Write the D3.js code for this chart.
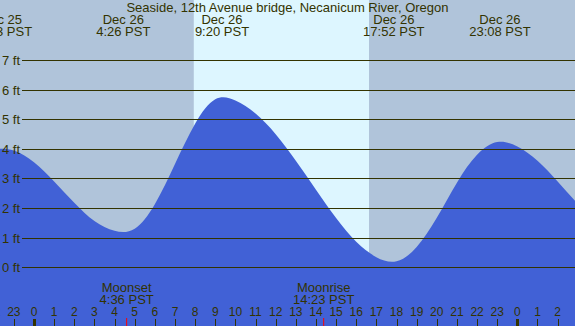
<!DOCTYPE html>
<html>
<head>
<meta charset="utf-8">
<script src="https://cdn.jsdelivr.net/npm/d3@7"></script>
<style>
  body { margin: 0; padding: 0; background: #fff; }
  svg { display: block; font-family: "Liberation Sans", Arial, sans-serif; }
</style>
</head>
<body>
<div id="svg-container"></div>
<script>
// hourly tide heights (hours from Dec 26 00:00 PST, feet)
var tideHours = [-3, -2, -1, 0, 1, 2, 3, 4, 5, 6, 7, 8, 9, 10, 11, 12, 13, 14, 15, 16, 17, 18, 19, 20, 21, 22, 23, 24, 25, 26, 27, 28];
var tideFeet  = [3.85, 3.99, 3.95, 3.55, 2.9, 2.18, 1.56, 1.23, 1.3, 2.13, 3.49, 4.85, 5.68, 5.64, 5.2, 4.5, 3.6, 2.62, 1.66, 0.86, 0.34, 0.2, 0.68, 1.67, 2.86, 3.8, 4.23, 4.08, 3.6, 2.9, 2.15, 1.5];

// high / low labels along the top
var tideDays  = ["Dec 25", "Dec 26", "Dec 26", "Dec 26", "Dec 26"];
var tideTimes = ["22:23 PST", "4:26 PST", "9:20 PST", "17:52 PST", "23:08 PST"];

var sunTimes = ["7:56", "16:38"];   // sunrise, sunset
var moonNames = ["Moonset", "Moonrise"];
var moonTimes = ["4:36 PST", "14:23 PST"];

var feetTicks = [0, 1, 2, 3, 4, 5, 6, 7];
var title = "Seaside, 12th Avenue bridge, Necanicum River, Oregon";

var width = 575,
    height = 326;

var textColor = "#333300";

function toHour(day, time) {
  var p = time.split(" ")[0].split(":");
  var h = +p[0] + (+p[1]) / 60;
  if (day == "Dec 25") h -= 24;
  return h;
}

var x = d3.scaleLinear().domain([-1.688, 26.862]).range([0, width]);
var y = d3.scaleLinear().domain([0, 7]).range([267.2, 60.2]);

var svg = d3.select("#svg-container")
            .append("svg")
            .attr("width", width)
            .attr("height", height);

// night background
svg.append("rect")
   .attr("width", width)
   .attr("height", height)
   .attr("fill", "#b0c4da");

// daylight
svg.append("rect")
   .attr("x", x(toHour("Dec 26", sunTimes[0])))
   .attr("y", 0)
   .attr("width", x(toHour("Dec 26", sunTimes[1])) - x(toHour("Dec 26", sunTimes[0])))
   .attr("height", height)
   .attr("fill", "#ddf6ff");

var tideData = tideHours.map(function(h, i){ return {h: h, ft: tideFeet[i]}; });

// evenly spaced points, so a natural spline gives the smooth tide curve
var area = d3.area()
             .x(function(d){ return x(d.h); })
             .y0(height)
             .y1(function(d){ return y(d.ft); })
             .curve(d3.curveNatural);

svg.append("path")
   .datum(tideData)
   .attr("d", area)
   .attr("fill", "#4161d6");

// grid lines + feet labels
svg.selectAll(".grid")
   .data(feetTicks)
   .enter()
   .append("line")
   .attr("class", "grid")
   .attr("x1", 22)
   .attr("x2", width)
   .attr("y1", function(d){ return Math.round(y(d)) + 0.5; })
   .attr("y2", function(d){ return Math.round(y(d)) + 0.5; })
   .attr("stroke", textColor)
   .attr("stroke-width", 1.2);

svg.selectAll(".ftlabel")
   .data(feetTicks)
   .enter()
   .append("text")
   .attr("class", "ftlabel")
   .attr("x", 20)
   .attr("y", function(d){ return Math.round(y(d)) + 5; })
   .attr("text-anchor", "end")
   .attr("font-size", 13)
   .attr("fill", textColor)
   .text(function(d){ return d + " ft"; });

// title
svg.append("text")
   .attr("x", width / 2)
   .attr("y", 12)
   .attr("text-anchor", "middle")
   .attr("font-size", 13)
   .attr("fill", textColor)
   .text(title);

// tide extremes
var ext = svg.selectAll(".ext")
             .data(tideTimes)
             .enter()
             .append("g")
             .attr("class", "ext")
             .attr("transform", function(d, i){ return "translate(" + x(toHour(tideDays[i], d)) + ",0)"; });

ext.append("text")
   .attr("y", 24)
   .attr("text-anchor", "middle")
   .attr("font-size", 13)
   .attr("fill", textColor)
   .text(function(d, i){ return tideDays[i]; });

ext.append("text")
   .attr("y", 36)
   .attr("text-anchor", "middle")
   .attr("font-size", 13)
   .attr("fill", textColor)
   .text(function(d){ return d; });

// moon labels
var moon = svg.selectAll(".moon")
              .data(moonTimes)
              .enter()
              .append("g")
              .attr("class", "moon")
              .attr("transform", function(d){ return "translate(" + x(toHour("Dec 26", d)) + ",0)"; });

moon.append("text")
    .attr("y", 292)
    .attr("text-anchor", "middle")
    .attr("font-size", 13)
    .attr("fill", textColor)
    .text(function(d, i){ return moonNames[i]; });

moon.append("text")
    .attr("y", 304)
    .attr("text-anchor", "middle")
    .attr("font-size", 13)
    .attr("fill", textColor)
    .text(function(d){ return d; });

moon.append("line")
    .attr("x1", 0).attr("x2", 0)
    .attr("y1", 318).attr("y2", height)
    .attr("stroke", "#ff0000")
    .attr("stroke-width", 1);

// hour ticks along the bottom
var hours = d3.range(Math.ceil(x.domain()[0]) - 1, Math.floor(x.domain()[1]) + 1);

svg.selectAll(".hlabel")
   .data(hours)
   .enter()
   .append("text")
   .attr("class", "hlabel")
   .attr("x", function(d){ return x(d); })
   .attr("y", 316)
   .attr("text-anchor", "middle")
   .attr("font-size", 12)
   .attr("fill", textColor)
   .text(function(d){ return ((d % 24) + 24) % 24; });

svg.selectAll(".htick")
   .data(hours)
   .enter()
   .append("line")
   .attr("class", "htick")
   .attr("x1", function(d){ return Math.round(x(d)) + 0.5; })
   .attr("x2", function(d){ return Math.round(x(d)) + 0.5; })
   .attr("y1", 319)
   .attr("y2", height)
   .attr("stroke", textColor)
   .attr("stroke-width", function(d){ return d % 24 == 0 ? 3 : 1; });
</script>
</body>
</html>
